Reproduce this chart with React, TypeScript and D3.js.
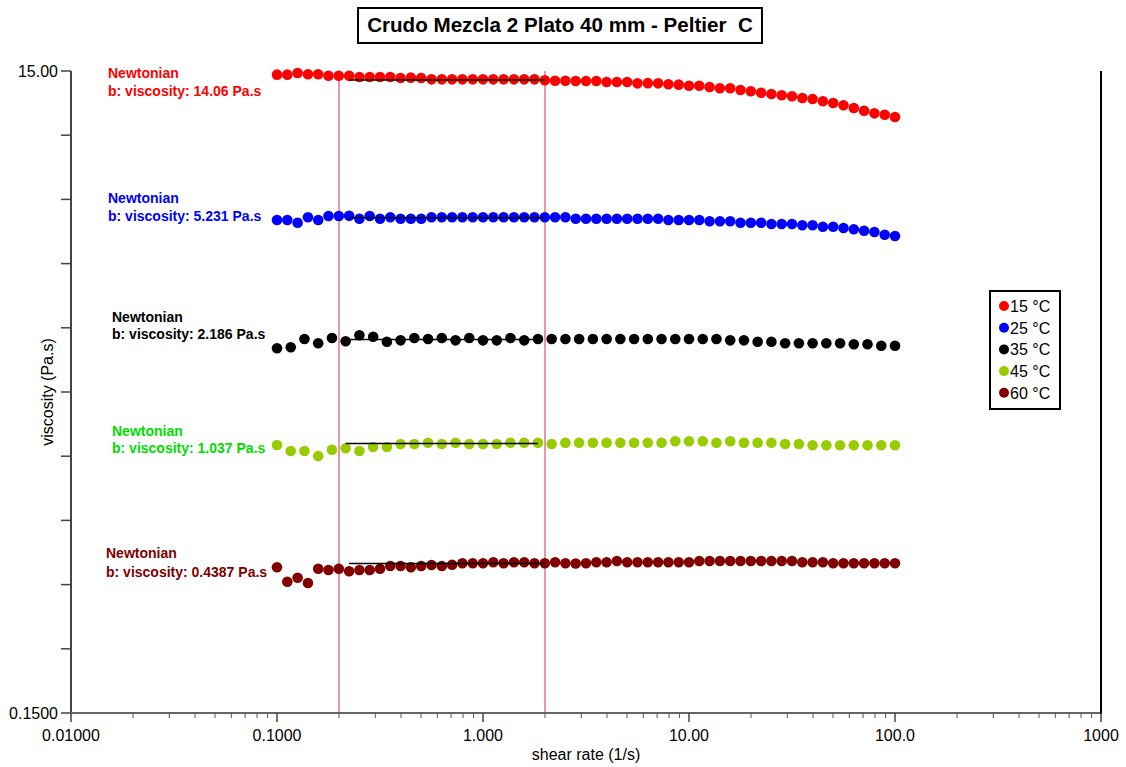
import React from "react";
import * as d3 from "d3";

// ---------- data ----------
const rate20 = [0.1, 0.1122, 0.1259, 0.1413, 0.1585, 0.1778, 0.1995, 0.2239, 0.2512, 0.2818, 0.3162, 0.3548, 0.3981, 0.4467, 0.5012, 0.5623, 0.631, 0.7079, 0.7943, 0.8913, 1.0, 1.122, 1.259, 1.413, 1.585, 1.778, 1.995, 2.239, 2.512, 2.818, 3.162, 3.548, 3.981, 4.467, 5.012, 5.623, 6.31, 7.079, 7.943, 8.913, 10, 11.22, 12.59, 14.13, 15.85, 17.78, 19.95, 22.39, 25.12, 28.18, 31.62, 35.48, 39.81, 44.67, 50.12, 56.23, 63.1, 70.79, 79.43, 89.13, 100];
const rate15 = [0.1, 0.1166, 0.1359, 0.1585, 0.1848, 0.2154, 0.2512, 0.2929, 0.3415, 0.3981, 0.4642, 0.5412, 0.631, 0.7356, 0.8577, 1.0, 1.166, 1.359, 1.585, 1.848, 2.154, 2.512, 2.929, 3.415, 3.981, 4.642, 5.412, 6.31, 7.356, 8.577, 10, 11.66, 13.59, 15.85, 18.48, 21.54, 25.12, 29.29, 34.15, 39.81, 46.42, 54.12, 63.1, 73.56, 85.77, 100];

const visc15 = [14.61, 14.61, 14.79, 14.65, 14.65, 14.5, 14.5, 14.5, 14.37, 14.37, 14.37, 14.37, 14.27, 14.3, 14.27, 14.13, 14.13, 14.13, 14.13, 14.13, 14.13, 14.13, 14.13, 14.13, 14.13, 14.13, 14.03, 13.99, 13.99, 13.96, 13.96, 13.96, 13.86, 13.86, 13.86, 13.73, 13.75, 13.73, 13.64, 13.6, 13.5, 13.5, 13.38, 13.25, 13.25, 13.09, 12.97, 12.84, 12.72, 12.6, 12.51, 12.36, 12.27, 12.07, 11.92, 11.73, 11.5, 11.28, 11.07, 10.96, 10.78];
const visc25 = [5.151, 5.151, 5.052, 5.252, 5.151, 5.301, 5.301, 5.312, 5.2, 5.301, 5.2, 5.252, 5.2, 5.2, 5.2, 5.252, 5.252, 5.252, 5.252, 5.252, 5.252, 5.252, 5.252, 5.252, 5.252, 5.252, 5.252, 5.252, 5.252, 5.2, 5.2, 5.2, 5.2, 5.2, 5.2, 5.2, 5.2, 5.2, 5.151, 5.151, 5.151, 5.151, 5.104, 5.104, 5.104, 5.052, 5.052, 5.052, 5.006, 5.006, 5.006, 4.959, 4.959, 4.91, 4.91, 4.864, 4.819, 4.771, 4.726, 4.636, 4.593];
const visc35 = [2.052, 2.067, 2.194, 2.127, 2.21, 2.158, 2.253, 2.23, 2.152, 2.173, 2.21, 2.194, 2.21, 2.173, 2.21, 2.173, 2.173, 2.21, 2.173, 2.194, 2.194, 2.194, 2.194, 2.194, 2.194, 2.194, 2.194, 2.194, 2.194, 2.194, 2.194, 2.194, 2.194, 2.173, 2.173, 2.152, 2.152, 2.127, 2.127, 2.127, 2.127, 2.127, 2.112, 2.112, 2.091, 2.091];
const visc45 = [1.0256, 0.9824, 0.9824, 0.9478, 0.9916, 1.0016, 0.9824, 1.011, 1.011, 1.033, 1.033, 1.0427, 1.033, 1.0427, 1.033, 1.033, 1.033, 1.0427, 1.0427, 1.0427, 1.033, 1.0427, 1.0427, 1.0427, 1.0427, 1.0427, 1.0427, 1.0427, 1.0427, 1.0532, 1.0532, 1.0532, 1.0427, 1.0532, 1.0427, 1.0427, 1.0427, 1.033, 1.033, 1.0234, 1.0234, 1.0234, 1.0234, 1.0234, 1.0234, 1.0234];
const visc60 = [0.4266, 0.3847, 0.3959, 0.3811, 0.4223, 0.4184, 0.4223, 0.4145, 0.4184, 0.4184, 0.4223, 0.4306, 0.4306, 0.4266, 0.4306, 0.4337, 0.4306, 0.4346, 0.439, 0.439, 0.439, 0.4421, 0.439, 0.4421, 0.4421, 0.439, 0.439, 0.4421, 0.439, 0.4385, 0.439, 0.4421, 0.4421, 0.4463, 0.4421, 0.4421, 0.4421, 0.4421, 0.4421, 0.4421, 0.4421, 0.4463, 0.4463, 0.4463, 0.4463, 0.4463, 0.4463, 0.4463, 0.4463, 0.4463, 0.4463, 0.4421, 0.4421, 0.4421, 0.439, 0.439, 0.439, 0.439, 0.439, 0.439, 0.439];

const seriesNames = ["15 °C", "25 °C", "35 °C", "45 °C", "60 °C"];
const seriesRates = [rate20, rate20, rate15, rate15, rate20];
const seriesVisc = [visc15, visc25, visc35, visc45, visc60];
const fitViscosity = [14.06, 5.231, 2.186, 1.037, 0.4387];
const fitViscosityText = ["14.06", "5.231", "2.186", "1.037", "0.4387"];
const fitRange = [0.2, 2.0];

const xTickValues = [0.01, 0.1, 1, 10, 100, 1000];
const xTickLabels = ["0.01000", "0.1000", "1.000", "10.00", "100.0", "1000"];
const yLabelValues = [15, 0.15];
const yLabelTexts = ["15.00", "0.1500"];

const title = "Crudo Mezcla 2 Plato 40 mm - Peltier  C";
const xTitle = "shear rate (1/s)";
const yTitle = "viscosity (Pa.s)";

// ---------- styling / layout ----------
const W = 1126;
const H = 767;
const M = { left: 71, right: 1101, top: 71, bottom: 713 };
const markerColors = ["#ff0000", "#0000ff", "#000000", "#99cc00", "#800000"];
const labelColors = ["#ff0000", "#0000ff", "#000000", "#00dd00", "#800000"];
const labelPos = [
  { x: 108, y1: 78, y2: 96 },
  { x: 108, y1: 203, y2: 221 },
  { x: 112, y1: 322, y2: 339 },
  { x: 112, y1: 436, y2: 453 },
  { x: 106, y1: 558, y2: 577 },
];
const FONT = "'Liberation Sans', Arial, Helvetica, sans-serif";

export default function App() {
  const x = d3.scaleLog().domain([0.01, 1000]).range([M.left, M.right]);
  const y = d3.scaleLog().domain([0.15, 15]).range([M.bottom, M.top]);

  const minorX: number[] = [];
  for (let d = 0.01; d < 999; d *= 10) {
    for (let m = 2; m <= 9; m++) minorX.push(d * m);
  }
  const yTicks: number[] = [];
  for (let k = 0; k <= 10; k++) yTicks.push(15 * Math.pow(10, -0.2 * k));

  const line = d3
    .line<[number, number]>()
    .x((d) => x(d[0]))
    .y((d) => y(d[1]));

  return (
    <div>
      <style>{"body{margin:0}"}</style>
      <svg width={W} height={H} style={{ display: "block", background: "#fff", fontFamily: FONT }}>
        {/* title */}
        <rect x={358} y={8} width={404} height={35} fill="#fff" stroke="#000" strokeWidth={2} />
        <text x={560} y={32} textAnchor="middle" fontSize={20.6} fontWeight="bold" style={{ whiteSpace: "pre" }}>
          {title}
        </text>

        {/* vertical reference lines */}
        {fitRange.map((r, i) => (
          <line key={"vr" + i} x1={x(r)} x2={x(r)} y1={M.top} y2={M.bottom} stroke="#dd7788" strokeWidth={1.5} />
        ))}

        {/* axes */}
        <line x1={M.left} x2={M.left} y1={M.top} y2={M.bottom + 1} stroke="#444" strokeWidth={2} />
        <line x1={M.left} x2={M.right} y1={M.bottom} y2={M.bottom} stroke="#666" strokeWidth={2} />
        <line x1={M.right} x2={M.right} y1={M.top} y2={M.bottom + 1} stroke="#000" strokeWidth={2} />

        {yTicks.map((t, i) => (
          <line key={"yt" + i} x1={M.left - 10} x2={M.left} y1={y(t)} y2={y(t)} stroke="#444" strokeWidth={1.5} />
        ))}
        {yLabelValues.map((v, i) => (
          <text key={"yl" + i} x={M.left - 13} y={y(v) + 6} textAnchor="end" fontSize={16}>
            {yLabelTexts[i]}
          </text>
        ))}
        {xTickValues.map((v, i) => (
          <g key={"xt" + i}>
            <line x1={x(v)} x2={x(v)} y1={M.bottom} y2={M.bottom + 9} stroke="#444" strokeWidth={1.5} />
            <text x={x(v)} y={741} textAnchor="middle" fontSize={16}>
              {xTickLabels[i]}
            </text>
          </g>
        ))}
        {minorX.map((v, i) => (
          <line key={"xm" + i} x1={x(v)} x2={x(v)} y1={M.bottom} y2={M.bottom + 5} stroke="#555" strokeWidth={1} />
        ))}

        <text x={586} y={760} textAnchor="middle" fontSize={16}>
          {xTitle}
        </text>
        <text transform={`translate(53,${(M.top + M.bottom) / 2}) rotate(-90)`} textAnchor="middle" fontSize={16}>
          {yTitle}
        </text>

        {/* data */}
        {seriesVisc.map((vals, si) => (
          <g key={"s" + si} fill={markerColors[si]}>
            {vals.map((v, j) => (
              <circle key={j} cx={x(seriesRates[si][j])} cy={y(v)} r={5.3} />
            ))}
          </g>
        ))}

        {/* fit lines */}
        {seriesVisc.map((_, si) => {
          const rs = seriesRates[si].filter((r) => r >= fitRange[0] && r <= fitRange[1]);
          const pts: [number, number][] = [
            [rs[0], fitViscosity[si]],
            [rs[rs.length - 1], fitViscosity[si]],
          ];
          return <path key={"f" + si} d={line(pts) || ""} stroke="#000" strokeWidth={1.5} fill="none" />;
        })}

        {/* annotations */}
        {labelPos.map((p, i) => (
          <g key={"a" + i} fill={labelColors[i]} fontSize={14} fontWeight="bold">
            <text x={p.x} y={p.y1}>Newtonian</text>
            <text x={p.x} y={p.y2}>{`b: viscosity: ${fitViscosityText[i]} Pa.s`}</text>
          </g>
        ))}

        {/* legend */}
        <rect x={990} y={291} width={70} height={118} fill="#fff" stroke="#000" strokeWidth={2} />
        {seriesNames.map((n, i) => (
          <g key={"l" + i}>
            <circle cx={1004} cy={306 + i * 21.7} r={5} fill={markerColors[i]} />
            <text x={1010} y={306 + i * 21.7 + 6} fontSize={16}>
              {n}
            </text>
          </g>
        ))}
      </svg>
    </div>
  );
}
